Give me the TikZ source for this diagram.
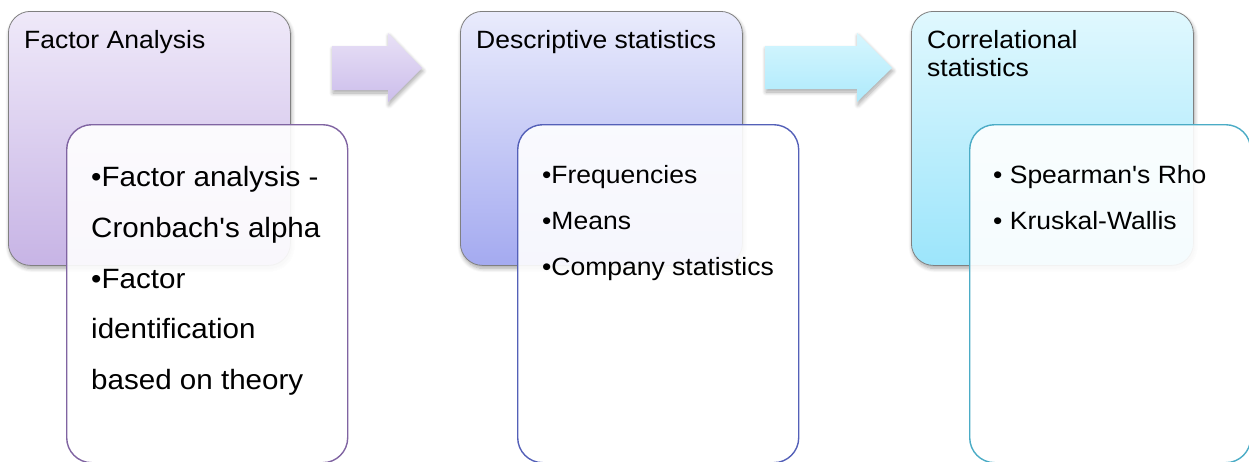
\documentclass[tikz,border=0pt]{standalone}
\usepackage{fontspec}
\setmainfont{Liberation Sans}[FakeStretch=1.06, Ligatures=TeXOff]
\usetikzlibrary{shadows.blur}

\definecolor{fatop}{RGB}{239,233,249}
\definecolor{fabot}{RGB}{199,180,229}
\definecolor{dstop}{RGB}{233,235,252}
\definecolor{dsbot}{RGB}{164,170,240}
\definecolor{cstop}{RGB}{224,248,254}
\definecolor{csbot}{RGB}{156,229,251}
\definecolor{faline}{RGB}{128,100,162}
\definecolor{dsline}{RGB}{84,96,184}
\definecolor{csline}{RGB}{75,172,198}
\definecolor{arAtop}{RGB}{232,224,246}
\definecolor{arAbot}{RGB}{204,190,235}
\definecolor{arBtop}{RGB}{214,246,254}
\definecolor{arBbot}{RGB}{174,234,252}

\tikzset{
  softshadow/.style={blur shadow={shadow xshift=1pt, shadow yshift=-3pt,
      shadow blur radius=4pt, shadow blur steps=8, shadow opacity=35}},
  stagebox/.style={draw=black!50, line width=0.8pt, rounded corners=22pt,
      minimum width=282pt, minimum height=254pt, anchor=north west,
      inner sep=0pt, softshadow},
  listbox/.style={draw=#1, line width=1.4pt, rounded corners=25pt,
      fill=white, fill opacity=0.9, minimum width=281pt, minimum height=338pt,
      anchor=north west, inner sep=0pt},
  txt/.style={anchor=base west, inner sep=0pt,
      font=\fontsize{25}{29}\selectfont},
  bigtxt/.style={anchor=base west, inner sep=0pt,
      font=\fontsize{27.9}{31}\selectfont},
  blockarrow/.style={softshadow, draw=none},
}

\begin{document}
\begin{tikzpicture}[x=1pt,y=-1pt]
\useasboundingbox (0,0) rectangle (1249,461);
\clip (0,0) rectangle (1249,461);

% stage 1: factor analysis
\node[stagebox, top color=fatop, bottom color=fabot] (fa) at (8,11) {};
\node[listbox=faline] (falist) at (66,124) {};
\node[txt] (fatitle) at (24,48) {Factor Analysis};
\node[bigtxt] (fa1) at (91,186) {•Factor analysis -};
\node[bigtxt] (fa2) at (91,237) {Cronbach's alpha};
\node[bigtxt] (fa3) at (91,288) {•Factor};
\node[bigtxt] (fa4) at (91,338) {identification};
\node[bigtxt] (fa5) at (91,389) {based on theory};

% stage 2: descriptive statistics
\node[stagebox, top color=dstop, bottom color=dsbot] (ds) at (460,11) {};
\node[listbox=dsline] (dslist) at (517,124) {};
\node[txt] (dstitle) at (476,48) {Descriptive statistics};
\node[txt] (ds1) at (542,183) {•Frequencies};
\node[txt] (ds2) at (542,229) {•Means};
\node[txt] (ds3) at (542,275) {•Company statistics};

% stage 3: correlational statistics
\node[stagebox, top color=cstop, bottom color=csbot] (cs) at (911,11) {};
\node[listbox=csline] (cslist) at (969,124) {};
\node[txt] (cstitle1) at (927,48) {Correlational};
\node[txt] (cstitle2) at (927,76) {statistics};
\node[txt] (cs1) at (993,183) {• Spearman's Rho};
\node[txt] (cs2) at (993,229) {• Kruskal-Wallis};

% block arrows between the stages
\path[blockarrow, top color=arAtop, bottom color=arAbot]
  (332,46) -- (388,46) -- (388,33) -- (422,68) -- (388,102) -- (388,90) -- (332,90) -- cycle;
\path[blockarrow, top color=arBtop, bottom color=arBbot]
  (765,46) -- (857,46) -- (857,33) -- (892,68) -- (857,102) -- (857,89) -- (765,89) -- cycle;
\end{tikzpicture}
\end{document}
